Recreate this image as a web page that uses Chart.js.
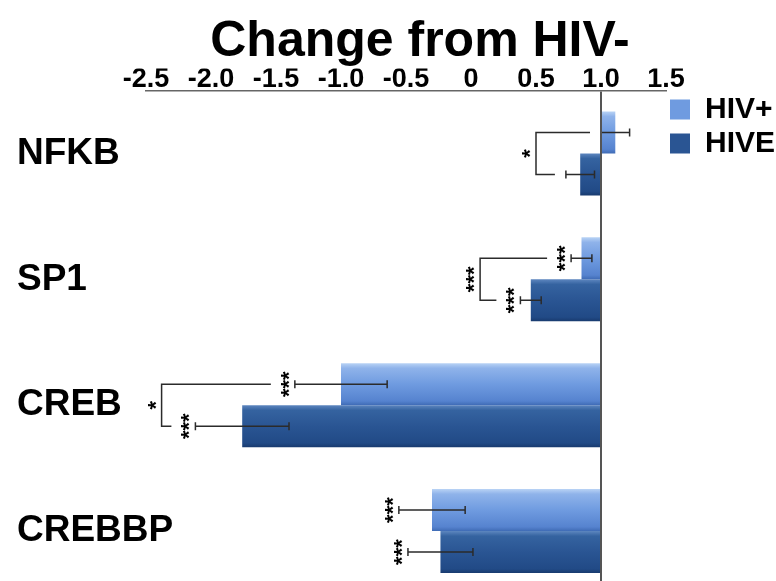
<!DOCTYPE html>
<html>
<head>
<meta charset="utf-8">
<script src="https://cdn.jsdelivr.net/npm/chart.js@4.4.0/dist/chart.umd.min.js"></script>
<style>
  html, body { margin: 0; overflow: hidden; background: #fff; }
  #wrap { position: absolute; left: 0; top: 0; width: 776px; height: 600px; }
</style>
</head>
<body>
<div id="wrap"><canvas id="chart"></canvas></div>
<script>
// data (fold change, bars start at 1.0)
const genes = ['NFKB', 'SP1', 'CREB', 'CREBBP'];
const hivPos = [1.11, 0.85, -1.0, -0.30];
const hivPosErr = [0.11, 0.08, 0.355, 0.255];
const hive = [0.84, 0.46, -1.76, -0.235];
const hiveErr = [0.11, 0.08, 0.36, 0.25];
const hivPosStars = ['', '***', '***', '***'];
const hiveStars = ['', '***', '***', '***'];
const pairStars = ['*', '***', '*', ''];
const pairX = [0.5, 0.07, -2.38, null];
const baseline = 1.0;
const xMin = -2.5, xMax = 1.5, xStep = 0.5;

const catPct = 0.668;
const lightStops = [[0, '#b9d3f5'], [0.12, '#8fb3ea'], [0.5, '#6f9be0'], [0.9, '#5683cf'], [1, '#3f6bb5']];
const darkStops = [[0, '#5d86bf'], [0.12, '#3563a0'], [0.5, '#2a5593'], [0.9, '#214a86'], [1, '#183a6e']];

Chart.defaults.font.family = '"Liberation Sans", Arial, sans-serif';
Chart.defaults.color = '#000';

function shade(stops) {
  return (c) => {
    const y = c.chart.scales.y;
    if (c.type !== 'data' || !y) return stops[2][1];
    const center = y.getPixelForValue(c.dataIndex);
    const band = (y.getPixelForValue(1) - y.getPixelForValue(0)) * catPct / 2;
    const top = c.datasetIndex === 0 ? center - band : center;
    const g = c.chart.ctx.createLinearGradient(0, top, 0, top + band);
    stops.forEach(s => g.addColorStop(s[0], s[1]));
    return g;
  };
}

function stars(ctx, text, x, y) {
  ctx.save();
  ctx.translate(x, y);
  ctx.rotate(-Math.PI / 2);
  ctx.textAlign = 'center';
  ctx.textBaseline = 'alphabetic';
  ctx.fillText(text, 0, 12);
  ctx.restore();
}

// title sits a bit right of the plot centre in the original
const titleNudge = {
  id: 'titleNudge',
  afterLayout(chart) {
    const t = chart.titleBlock;
    if (t) { t.left += 14; t.right += 14; }
  }
};

// gene names: drawn here so the long ones can run into the plot like the original
const geneLabels = {
  id: 'geneLabels',
  afterDraw(chart) {
    const ctx = chart.ctx;
    const y = chart.scales.y;
    ctx.save();
    ctx.font = 'bold 37px "Liberation Sans", Arial';
    ctx.fillStyle = '#000';
    ctx.textAlign = 'left';
    ctx.textBaseline = 'middle';
    genes.forEach((g, i) => ctx.fillText(g, y.left, y.getPixelForValue(i)));
    ctx.restore();
  }
};

const annotations = {
  id: 'annotations',
  afterDatasetsDraw(chart) {
    const ctx = chart.ctx;
    const x = chart.scales.x;
    ctx.save();
    ctx.strokeStyle = '#2b2b2b';
    ctx.fillStyle = '#000';
    ctx.lineWidth = 1.5;
    ctx.font = 'bold 22px "Liberation Sans", Arial';
    const series = [[hivPos, hivPosErr, hivPosStars], [hive, hiveErr, hiveStars]];
    const arms = [[], []];
    const ys = [[], []];
    series.forEach((s, d) => {
      const meta = chart.getDatasetMeta(d);
      s[0].forEach((v, i) => {
        const yc = meta.data[i].y;
        const x1 = x.getPixelForValue(v - s[1][i]);
        const x2 = x.getPixelForValue(v + s[1][i]);
        ctx.beginPath();
        ctx.moveTo(x1, yc); ctx.lineTo(x2, yc);
        ctx.moveTo(x1, yc - 4); ctx.lineTo(x1, yc + 4);
        ctx.moveTo(x2, yc - 4); ctx.lineTo(x2, yc + 4);
        ctx.stroke();
        if (s[2][i]) {
          stars(ctx, s[2][i], x1 - 11, yc);
          arms[d][i] = x1 - 24;
        } else {
          arms[d][i] = x1 - 11;
        }
        ys[d][i] = yc;
      });
    });
    pairX.forEach((px, i) => {
      if (px === null) return;
      const bx = x.getPixelForValue(px);
      ctx.beginPath();
      ctx.moveTo(arms[0][i], ys[0][i]);
      ctx.lineTo(bx, ys[0][i]);
      ctx.lineTo(bx, ys[1][i]);
      ctx.lineTo(arms[1][i], ys[1][i]);
      ctx.stroke();
      stars(ctx, pairStars[i], bx - 11, (ys[0][i] + ys[1][i]) / 2);
    });
    ctx.restore();
  }
};

new Chart(document.getElementById('chart'), {
  type: 'bar',
  data: {
    labels: genes,
    datasets: [
      {
        label: 'HIV+',
        data: hivPos.map(v => [baseline, v]),
        backgroundColor: shade(lightStops),
        borderWidth: 0,
        categoryPercentage: catPct,
        barPercentage: 1
      },
      {
        label: 'HIVE',
        data: hive.map(v => [baseline, v]),
        backgroundColor: shade(darkStops),
        borderWidth: 0,
        categoryPercentage: catPct,
        barPercentage: 1
      }
    ]
  },
  options: {
    indexAxis: 'y',
    responsive: true,
    maintainAspectRatio: false,
    animation: false,
    devicePixelRatio: 1,
    layout: { padding: { left: 17, top: 0, right: 0, bottom: 6 } },
    scales: {
      x: {
        position: 'top',
        min: xMin,
        max: xMax,
        ticks: {
          stepSize: xStep,
          padding: -2.5,
          font: { size: 27, weight: 'bold', lineHeight: 1 },
          callback: v => v === 0 ? '0' : v.toFixed(1)
        },
        grid: {
          drawTicks: false,
          z: 1,
          color: c => c.tick && c.tick.value === baseline ? '#555' : 'rgba(0,0,0,0)',
          lineWidth: 2
        },
        border: { display: true, color: '#666', width: 1.5, z: 1 }
      },
      y: {
        grid: { display: false },
        border: { display: false },
        ticks: { display: false },
        afterFit: s => { s.width = 129; }
      }
    },
    plugins: {
      title: {
        display: true,
        text: 'Change from HIV-',
        fullSize: false,
        font: { size: 50, weight: 'bold', lineHeight: 1 },
        padding: { top: 17, bottom: 1.5 }
      },
      legend: {
        position: 'right',
        align: 'start',
        fullSize: false,
        maxWidth: 110,
        labels: {
          boxWidth: 20,
          boxHeight: 20,
          padding: 4,
          font: { size: 30, weight: 'bold' },
          generateLabels: chart =>
            Chart.defaults.plugins.legend.labels.generateLabels(chart).map((l, i) => ({
              ...l,
              fillStyle: [lightStops, darkStops][i][2][1],
              strokeStyle: 'rgba(0,0,0,0)',
              lineWidth: 0
            }))
        }
      },
      tooltip: { enabled: false }
    }
  },
  plugins: [annotations, geneLabels, titleNudge]
});
</script>
</body>
</html>
